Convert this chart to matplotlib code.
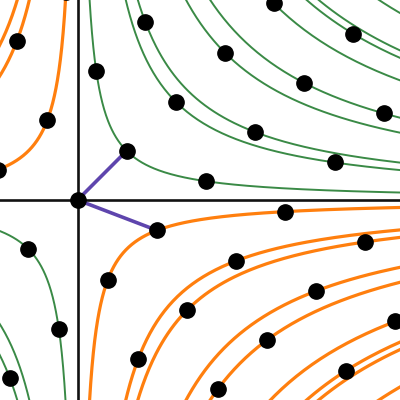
import numpy as np
import matplotlib
matplotlib.use("Agg")
import matplotlib.pyplot as plt

phi = (1 + 5 ** 0.5) / 2

# lattice basis in eigen coordinates: 1 -> (1, 1), phi -> (phi, -1/phi)
basis_1 = (1.0, 1.0)
basis_phi = (phi, -1 / phi)

# norm levels of the hyperbolas xy = N
pos_norms = [1, 4, 5, 9, 11, 16, 19, 20, 25]
neg_norms = [-1, -4, -5, -9, -11, -16, -19, -20, -25]

# integer coefficients a + b*phi
coef_a = list(range(-12, 13))
coef_b = list(range(-12, 13))

xlim = (-1.58, 6.57)
ylim = (-4.07, 4.07)

green = "#3a8a46"
orange = "#ff7f0e"
purple = "#5e45ad"

fig = plt.figure(figsize=(4, 4), dpi=100)
ax = fig.add_axes([0, 0, 1, 1])

xs = np.geomspace(1e-3, 10, 800)
for n in pos_norms:
    ax.plot(xs, n / xs, color=green, lw=1.4, zorder=1)
    ax.plot(-xs, -n / xs, color=green, lw=1.4, zorder=1)
for n in neg_norms:
    ax.plot(xs, n / xs, color=orange, lw=2.3, zorder=1)
    ax.plot(-xs, -n / xs, color=orange, lw=2.3, zorder=1)

ax.axhline(0, color="#111111", lw=1.9, zorder=2)
ax.axvline(0, color="#111111", lw=1.9, zorder=2)

for v in (basis_1, basis_phi):
    ax.plot([0, v[0]], [0, v[1]], color=purple, lw=2.6, zorder=3, solid_capstyle="butt")

px, py = [], []
for a in coef_a:
    for b in coef_b:
        x = a * basis_1[0] + b * basis_phi[0]
        y = a * basis_1[1] + b * basis_phi[1]
        if xlim[0] - 0.2 < x < xlim[1] + 0.2 and ylim[0] - 0.2 < y < ylim[1] + 0.2:
            px.append(x)
            py.append(y)
ax.plot(px, py, "o", color="black", ms=11, zorder=4, clip_on=True)

ax.set_xlim(*xlim)
ax.set_ylim(*ylim)
ax.axis("off")

fig.savefig("out.png", dpi=100)
